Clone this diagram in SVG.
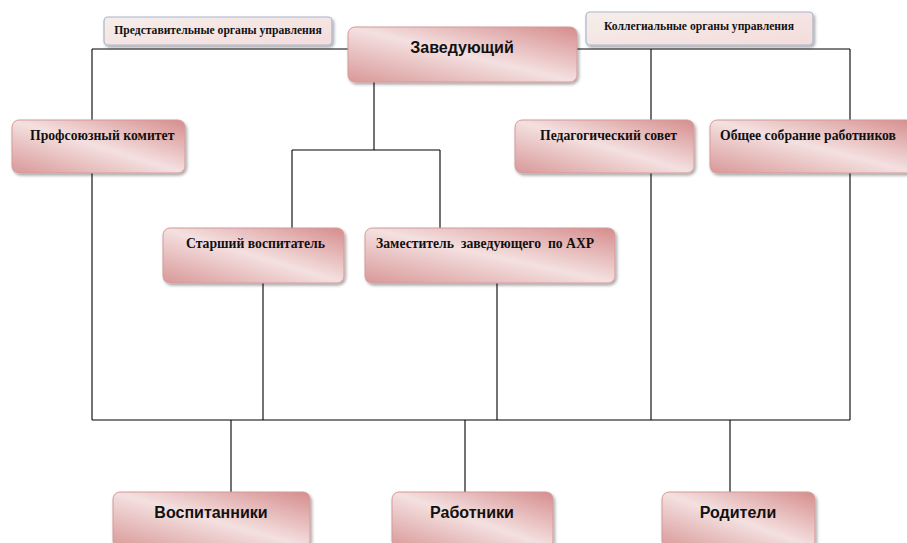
<svg xmlns="http://www.w3.org/2000/svg" width="907" height="543" viewBox="0 0 907 543">
<defs>
<linearGradient id="pink" x1="1" y1="0" x2="0" y2="1">
<stop offset="0" stop-color="#d68c8c"/>
<stop offset="0.5" stop-color="#f4e0e0"/>
<stop offset="1" stop-color="#d99898"/>
</linearGradient>
<linearGradient id="pale" x1="0" y1="0" x2="1" y2="1">
<stop offset="0" stop-color="#f6eeea"/>
<stop offset="1" stop-color="#f3dcdc"/>
</linearGradient>
<filter id="sh" x="-10%" y="-10%" width="125%" height="140%">
<feDropShadow dx="1.5" dy="2" stdDeviation="1.5" flood-color="#000" flood-opacity="0.35"/>
</filter>
</defs>
<style>
.box{fill:url(#pink);stroke:#d49a9a;stroke-width:1;filter:url(#sh)}
.hdr{fill:url(#pale);stroke:#a8b6cf;stroke-width:1.2;filter:url(#sh)}
.ser{font-family:"Liberation Serif","Times New Roman",serif;font-weight:bold;fill:#111;font-size:13.7px}
.sm{font-family:"Liberation Serif","Times New Roman",serif;font-weight:bold;fill:#111;font-size:11.6px}
.sans{font-family:"Liberation Sans",Arial,sans-serif;font-weight:bold;fill:#111;font-size:16px}
.ln{stroke:#000;stroke-width:1.1;fill:none}
</style>
<rect width="907" height="543" fill="#fff"/>
<g id="connectors">
<path class="ln" d="M92,49H348M577,49H850"/>
<path class="ln" d="M92,49V420M651,49V420M850,49V420"/>
<path class="ln" d="M374,82V150M292,150H440M292,150V228M440,150V228"/>
<path class="ln" d="M263,283V420M497,283V420"/>
<path class="ln" d="M92,420H850"/>
<path class="ln" d="M231,420V492M465,420V492M730,420V492"/>
</g>
<g id="n-pred"><rect class="hdr" x="104" y="17" width="228" height="28" rx="4"/><text class="sm" x="218" y="34" text-anchor="middle">Представительные органы управления</text></g>
<g id="n-koll"><rect class="hdr" x="586" y="12" width="227" height="33" rx="4"/><text class="sm" x="699" y="30" text-anchor="middle">Коллегиальные органы управления</text></g>
<g id="n-zav"><rect class="box" x="348" y="27" width="229" height="55" rx="7"/><text class="sans" x="462" y="53" text-anchor="middle">Заведующий</text></g>
<g id="n-prof"><rect class="box" x="12" y="120" width="173" height="53" rx="7"/><text class="ser" x="30" y="140">Профсоюзный комитет</text></g>
<g id="n-ped"><rect class="box" x="515" y="120" width="179" height="53" rx="7"/><text class="ser" x="540" y="140">Педагогический совет</text></g>
<g id="n-obsh"><rect class="box" x="710" y="120" width="205" height="53" rx="7"/><text class="ser" x="720" y="140">Общее собрание работников</text></g>
<g id="n-star"><rect class="box" x="163" y="228" width="181" height="55" rx="7"/><text class="ser" x="186" y="248">Старший воспитатель</text></g>
<g id="n-zam"><rect class="box" x="365" y="228" width="250" height="55" rx="7"/><text class="ser" x="376" y="248" xml:space="preserve">Заместитель  заведующего  по АХР</text></g>
<g id="n-vosp"><rect class="box" x="113" y="492" width="197" height="56" rx="7"/><text class="sans" x="211" y="518" text-anchor="middle">Воспитанники</text></g>
<g id="n-rab"><rect class="box" x="392" y="492" width="161" height="56" rx="7"/><text class="sans" x="472" y="518" text-anchor="middle">Работники</text></g>
<g id="n-rod"><rect class="box" x="662" y="492" width="153" height="56" rx="7"/><text class="sans" x="738" y="518" text-anchor="middle">Родители</text></g>
</svg>
